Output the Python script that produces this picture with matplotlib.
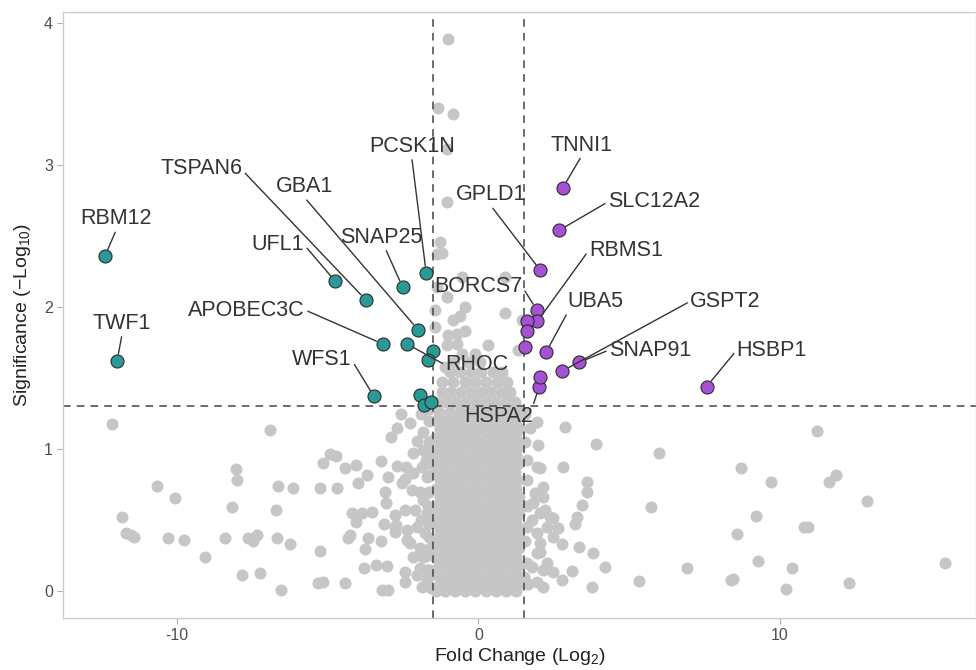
import matplotlib
matplotlib.use("Agg")
import matplotlib.pyplot as plt

# scattered non-significant proteins (log2 fold change, -log10 p)
gray_x = [-12.16, -6.91, -10.64, -10.06, -8.04, -8.01, -8.17, -6.63, -6.15, -6.70,
          -11.82, -11.69, -11.53, -11.42, -10.29, -9.75, -8.41, -7.63, -7.48, -7.35,
          -6.66, -6.25, -9.05, -7.85, -7.24, -6.53, -5.26, -5.32, -5.14, -4.42,
          -5.24, -4.70, -5.15, -4.92, -4.72, -4.42, -4.07, -4.00, -3.69, -3.23,
          -2.98, -3.09, -3.07, -4.20, -3.87, -3.53, -4.07, -4.25, -4.31, -3.65,
          -3.23, -3.77, -3.12, -2.76, -2.76, -3.78, -3.40, -3.04, -3.20, -2.98,
          -2.89, -2.71, -2.55, -2.71, -2.40, -2.54, -2.43, -2.73, -2.37, -2.43,
          -2.43, -2.26, -2.04, -1.82, -1.82, -2.16, -2.43, -2.16, -1.88, -1.71,
          -2.21, -1.93, -1.82, -2.10, -1.71, -2.37, -2.04, -1.77, -2.26, -1.93,
          -2.16, -1.82, -2.04, -1.71, -1.88, -2.76, -1.65, -1.60, -1.62, -1.65,
          -1.60, -1.62, -1.58, -1.62, -1.75, -1.60, -1.68, -1.90, -1.60, -1.75,
          -1.62, -1.70, -1.95, -1.62, -1.90, -1.58,
          1.94, 1.98, 2.87, 3.89, 6.00, 2.82, 2.05, 3.59, 3.59, 3.42,
          5.72, 3.28, 3.21, 2.49, 2.65, 2.21, 2.77, 3.33, 3.81, 4.20,
          3.10, 2.49, 2.77, 3.76, 5.34, 2.16, 2.27, 2.05, 2.16, 1.60,
          1.94, 1.60, 1.88, 2.16, 1.82, 2.05, 2.38, 1.77, 2.27, 1.94,
          2.49, 2.05, 1.94, 1.77, 2.16, 1.94, 1.55, 1.55, 1.55, 1.50,
          1.60, 1.62, 1.60, 1.70, 1.65,
          11.24, 8.71, 9.69, 11.64, 11.86, 12.90, 9.22, 8.57, 10.80, 10.94,
          6.91, 9.27, 10.39, 8.38, 8.43, 10.19, 12.29, 15.47,
          -1.01, -1.35, -0.83, -1.05, -1.05, -1.27, -1.21, -1.38, -0.55, 0.89,
          -1.38, -1.05, -0.44, -1.44, -0.61, -0.83, -1.44, -0.99, -0.72, -0.44,
          0.89, 1.44, -1.05, -0.72, -0.55, 0.33, -0.11, 1.33, -1.10]
gray_y = [1.174, 1.134, 0.742, 0.655, 0.861, 0.784, 0.594, 0.742, 0.727, 0.570,
          0.523, 0.406, 0.394, 0.383, 0.376, 0.359, 0.371, 0.371, 0.354, 0.397,
          0.371, 0.329, 0.242, 0.113, 0.127, 0.009, 0.282, 0.058, 0.066, 0.058,
          0.727, 0.723, 0.901, 0.963, 0.951, 0.864, 0.885, 0.758, 0.817, 0.913,
          0.805, 0.699, 0.622, 0.547, 0.547, 0.556, 0.486, 0.394, 0.371, 0.376,
          0.349, 0.296, 0.472, 0.453, 0.418, 0.160, 0.185, 0.178, 0.009, 0.009,
          1.082, 1.150, 1.246, 0.880, 0.875, 0.758, 0.570, 0.465, 0.359, 0.136,
          0.066, 1.180, 1.060, 1.120, 0.990, 0.970, 0.790, 0.830, 0.875, 0.805,
          0.710, 0.700, 0.640, 0.570, 0.547, 0.430, 0.453, 0.406, 0.336, 0.300,
          0.240, 0.240, 0.113, 0.077, 0.030, 0.535, 1.200, 0.900, 0.700, 0.470,
          0.300, 0.150, 0.020, 1.050, 0.920, 0.820, 0.600, 0.500, 0.550, 0.250,
          0.380, 0.150, 0.160, 1.280, 1.250, 0.980,
          1.190, 1.030, 1.157, 1.035, 0.974, 0.875, 0.864, 0.770, 0.695, 0.606,
          0.594, 0.523, 0.470, 0.512, 0.442, 0.570, 0.331, 0.312, 0.270, 0.171,
          0.141, 0.136, 0.077, 0.030, 0.073, 0.030, 0.195, 0.277, 0.735, 0.920,
          0.875, 0.780, 0.690, 0.660, 0.620, 0.547, 0.523, 0.500, 0.453, 0.406,
          0.382, 0.336, 0.265, 0.171, 0.148, 0.066, 1.250, 1.050, 0.350, 0.100,
          0.600, 0.450, 0.200, 1.150, 0.050,
          1.129, 0.864, 0.765, 0.765, 0.817, 0.636, 0.528, 0.401, 0.449, 0.449,
          0.164, 0.211, 0.164, 0.077, 0.085, 0.012, 0.054, 0.195,
          3.89, 3.40, 3.36, 3.11, 2.74, 2.46, 2.38, 2.37, 2.21, 2.21,
          2.14, 2.07, 2.00, 1.98, 1.94, 1.91, 1.86, 1.80, 1.81, 1.83,
          1.96, 1.91, 1.73, 1.74, 1.67, 1.73, 1.67, 1.70, 1.58]

# the dense centre of the cloud, read row by row
core_levels = [0.00, 0.06, 0.12, 0.18, 0.24, 0.30, 0.36, 0.42, 0.48, 0.54, 0.60,
               0.66, 0.72, 0.78, 0.84, 0.90, 0.96, 1.02, 1.08, 1.14, 1.20, 1.26,
               1.33, 1.40, 1.47, 1.54, 1.61]
core_rows = [
    [-1.42, -1.09, -0.76, -0.43, -0.10, 0.24, 0.57, 0.91, 1.25],
    [-1.28, -0.94, -0.61, -0.27, 0.07, 0.40, 0.74, 1.07, 1.37],
    [-1.44, -1.10, -0.77, -0.42, -0.09, 0.25, 0.58, 0.92, 1.24],
    [-1.29, -0.95, -0.60, -0.28, 0.06, 0.41, 0.73, 1.08, 1.36],
    [-1.43, -1.08, -0.75, -0.43, -0.08, 0.24, 0.59, 0.90, 1.25],
    [-1.27, -0.94, -0.61, -0.26, 0.07, 0.40, 0.75, 1.07, 1.35],
    [-1.44, -1.10, -0.76, -0.42, -0.10, 0.25, 0.57, 0.91, 1.26],
    [-1.28, -0.95, -0.62, -0.27, 0.06, 0.41, 0.74, 1.08, 1.36],
    [-1.42, -1.09, -0.75, -0.44, -0.09, 0.23, 0.58, 0.92, 1.24],
    [-1.29, -0.94, -0.60, -0.28, 0.07, 0.40, 0.73, 1.06, 1.35],
    [-1.43, -1.10, -0.77, -0.42, -0.08, 0.25, 0.58, 0.91, 1.25],
    [-1.27, -0.95, -0.61, -0.27, 0.06, 0.41, 0.75, 1.07, 1.34],
    [-1.41, -1.08, -0.76, -0.43, -0.10, 0.24, 0.57, 0.92, 1.24],
    [-1.28, -0.94, -0.62, -0.26, 0.07, 0.40, 0.74, 1.08, 1.33],
    [-1.42, -1.10, -0.75, -0.42, -0.09, 0.25, 0.58, 0.90, 1.22],
    [-1.29, -0.95, -0.61, -0.28, 0.06, 0.41, 0.73, 1.06, 1.34],
    [-1.43, -1.09, -0.76, -0.43, -0.08, 0.24, 0.59, 0.91, 1.25],
    [-1.27, -0.94, -0.60, -0.27, 0.07, 0.40, 0.75, 1.07, 1.36],
    [-1.44, -1.10, -0.77, -0.42, -0.10, 0.25, 0.58, 0.92, 1.26],
    [-1.28, -0.95, -0.61, -0.26, 0.06, 0.41, 0.74, 1.08, 1.37],
    [-1.42, -1.08, -0.75, -0.43, -0.09, 0.24, 0.57, 0.91, 1.25],
    [-1.29, -0.94, -0.62, -0.27, 0.07, 0.40, 0.73, 1.07, 1.36],
    [-1.40, -1.08, -0.74, -0.41, -0.07, 0.26, 0.59, 0.92, 1.22],
    [-1.22, -0.90, -0.57, -0.24, 0.10, 0.43, 0.76, 1.05],
    [-1.20, -0.85, -0.45, -0.10, 0.25, 0.62, 0.95],
    [-0.95, -0.60, -0.25, 0.10, 0.50, 0.80],
    [-0.80, -0.35, 0.05],
]

# significant down / up proteins
down_x = [-12.38, -11.98, -4.74, -3.73, -2.00, -2.51, -1.73, -3.17, -2.37, -3.46,
          -1.52, -1.66, -1.93, -1.81, -1.57]
down_y = [2.36, 1.62, 2.18, 2.05, 1.84, 2.14, 2.24, 1.74, 1.74, 1.37,
          1.69, 1.63, 1.38, 1.31, 1.33]
up_x = [2.80, 2.68, 2.05, 1.94, 1.96, 2.24, 3.34, 2.79, 2.02, 7.57,
        2.05, 1.60, 1.60, 1.55]
up_y = [2.84, 2.54, 2.26, 1.98, 1.90, 1.68, 1.61, 1.55, 1.44, 1.44,
        1.51, 1.90, 1.83, 1.72]

# labels: gene, point, label centre, where the segment leaves the label box
label_names = ["RBM12", "TWF1", "UFL1", "TSPAN6", "GBA1", "SNAP25", "PCSK1N",
               "APOBEC3C", "RHOC", "WFS1",
               "TNNI1", "SLC12A2", "GPLD1", "BORCS7", "RBMS1", "UBA5",
               "SNAP91", "GSPT2", "HSPA2", "HSBP1"]
label_px = [-12.38, -11.98, -4.74, -3.73, -2.00, -2.51, -1.73, -3.17, -2.37, -3.46,
            2.80, 2.68, 2.05, 1.94, 1.96, 2.24, 3.34, 2.79, 2.02, 7.57]
label_py = [2.36, 1.62, 2.18, 2.05, 1.84, 2.14, 2.24, 1.74, 1.74, 1.37,
            2.84, 2.54, 2.26, 1.98, 1.90, 1.68, 1.61, 1.55, 1.44, 1.44]
label_tx = [-12.00, -11.81, -6.64, -9.18, -5.77, -3.23, -2.21, -7.68, -0.05, -5.19,
            3.43, 5.82, 0.41, -0.01, 4.89, 3.89, 5.69, 8.19, 0.66, 9.73]
label_ty = [2.62, 1.884, 2.437, 2.977, 2.847, 2.49, 3.13, 1.979, 1.592, 1.627,
            3.14, 2.74, 2.789, 2.143, 2.40, 2.037, 1.697, 2.04, 1.227, 1.697]
label_rel = [(0.5, 0), (0.5, 0), (1, 0.5), (1, 0.4), (0.5, 0), (0.55, 0), (0.5, 0),
             (1, 0.5), (0, 0.5), (1, 0.5),
             (0.5, 0), (0, 0.5), (0.5, 0), (1, 0.5), (0, 0.5), (0, 0),
             (0, 0.5), (0, 0.5), (1, 1), (0, 0.5)]

fc_cut = 1.5
p_cut = 1.301

plt.rcParams['font.family'] = ['Liberation Sans', 'DejaVu Sans']
plt.rcParams['mathtext.default'] = 'regular'
plt.rcParams['axes.unicode_minus'] = False

fig = plt.figure(figsize=(9.76, 6.70), dpi=100)
ax = fig.add_axes([0.0649, 0.0776, 0.9351, 0.905])

cx, cy = [], []
for lvl, row in zip(core_levels, core_rows):
    cx += row
    cy += [lvl] * len(row)

ax.scatter(gray_x + cx, gray_y + cy, s=75, color='#c6c6c6',
           linewidths=0, zorder=1)

ax.axvline(-fc_cut, color='#444444', lw=1.1, ls=(0, (5, 4)), zorder=2)
ax.axvline(fc_cut, color='#444444', lw=1.1, ls=(0, (5, 4)), zorder=2)
ax.axhline(p_cut, color='#444444', lw=1.1, ls=(0, (5, 4)), zorder=2)

ax.scatter(down_x, down_y, s=88, color='#2a9a96', edgecolors='#2b2b2b',
           linewidths=0.8, zorder=3)
ax.scatter(up_x, up_y, s=88, color='#a650d6', edgecolors='#2b2b2b',
           linewidths=0.8, zorder=3)

for i, name in enumerate(label_names):
    ax.annotate(name, xy=(label_px[i], label_py[i]), xytext=(label_tx[i], label_ty[i]),
                ha='center', va='center', fontsize=15.5, color='#333333', zorder=4,
                arrowprops=dict(arrowstyle='-', color='#333333', lw=1.0,
                                shrinkA=0, shrinkB=5, relpos=label_rel[i]))

ax.set_xlim(-13.76, 16.5)
ax.set_ylim(-0.19, 4.08)
ax.set_xticks([-10, 0, 10])
ax.set_yticks([0, 1, 2, 3, 4])

for s in ax.spines.values():
    s.set_color('#cccccc')
    s.set_linewidth(1.0)
ax.tick_params(colors='#b0b0b0', labelcolor='#4d4d4d', labelsize=11.5,
               length=4, width=0.8)

ax.set_xlabel('Fold Change (Log$_2$)', fontsize=14, color='#222222', labelpad=2)
ax.set_ylabel('Significance (\u2212Log$_{10}$)', fontsize=14, color='#222222',
              labelpad=8)

fig.savefig('out.png', dpi=100)
